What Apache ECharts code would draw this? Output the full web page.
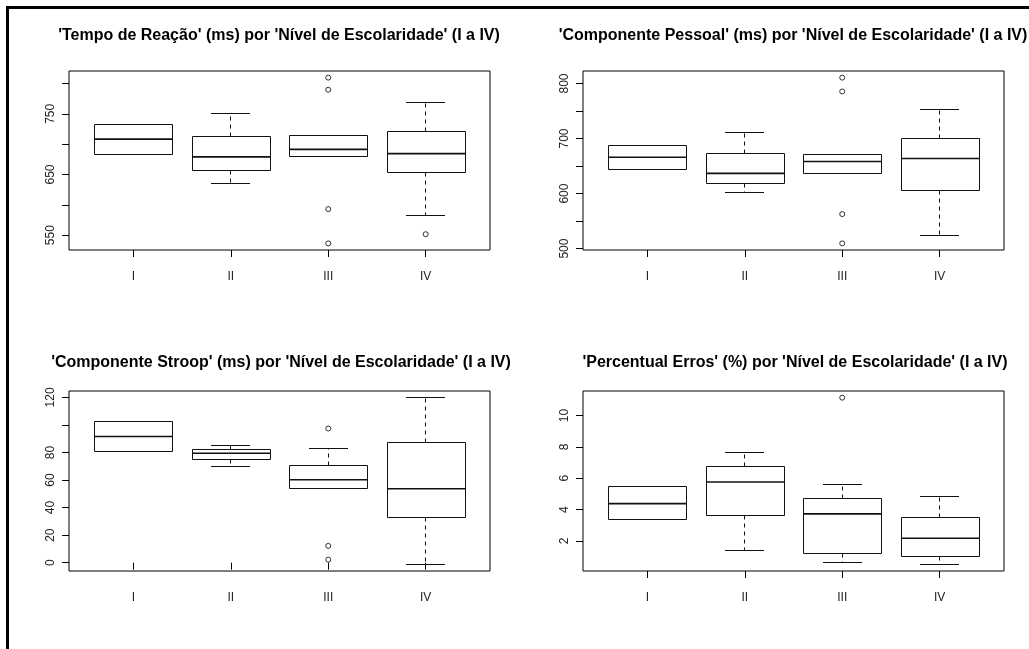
<!DOCTYPE html>
<html><head><meta charset="utf-8">
<script src="https://cdn.jsdelivr.net/npm/echarts@6/dist/echarts.min.js"></script>
<style>html,body{margin:0;padding:0;background:#fff}#c{width:1029px;height:649px}</style>
</head><body><div id="c"></div><script>
// ---- data ----
const categories = ['I', 'II', 'III', 'IV'];
const titles = [
  "'Tempo de Reação' (ms) por 'Nível de Escolaridade' (I a IV)",
  "'Componente Pessoal' (ms) por 'Nível de Escolaridade' (I a IV)",
  "'Componente Stroop' (ms) por 'Nível de Escolaridade' (I a IV)",
  "'Percentual Erros' (%) por 'Nível de Escolaridade' (I a IV)"
];
// each row: [lower whisker, Q1, median, Q3, upper whisker]
const tempoStats = [
  [682.8, 682.8, 708.4, 732.8, 732.8],
  [635.7, 656.8, 679.0, 712.6, 750.0],
  [679.0, 679.0, 691.5, 714.0, 714.0],
  [582.0, 653.0, 684.5, 720.7, 767.9]
];
const tempoOutliers = [[], [], [809.7, 789.7, 593.0, 536.5], [551.6]];
const tempoTicks = [550, 600, 650, 700, 750, 800];
const tempoLabels = [550, 650, 750];

const pessoalStats = [
  [643.4, 643.4, 666.0, 686.9, 686.9],
  [602.0, 618.8, 636.7, 672.6, 710.8],
  [636.7, 636.7, 658.2, 670.8, 670.8],
  [523.3, 605.7, 663.6, 700.7, 752.7]
];
const pessoalOutliers = [[], [], [810.6, 785.5, 562.7, 509.5], []];
const pessoalTicks = [500, 550, 600, 650, 700, 750, 800];
const pessoalLabels = [500, 600, 700, 800];

const stroopStats = [
  [80.6, 80.6, 91.6, 102.2, 102.2],
  [69.8, 75.1, 79.4, 82.3, 85.3],
  [53.7, 53.7, 60.2, 70.5, 83.0],
  [-1.2, 33.1, 53.7, 87.0, 119.8]
];
const stroopOutliers = [[], [], [97.4, 12.2, 2.2], []];
const stroopTicks = [0, 20, 40, 60, 80, 100, 120];
const stroopLabels = [0, 20, 40, 60, 80, 120];

const errosStats = [
  [3.35, 3.35, 4.38, 5.45, 5.45],
  [1.41, 3.60, 5.76, 6.75, 7.67],
  [0.64, 1.22, 3.73, 4.73, 5.57],
  [0.51, 1.04, 2.17, 3.49, 4.86]
];
const errosOutliers = [[], [], [11.14], []];
const errosTicks = [2, 4, 6, 8, 10];
const errosLabels = [2, 4, 6, 8, 10];

// ---- layout ----
const FONT = "'Liberation Sans', Arial, Helvetica, sans-serif";
const panels = [
  { stats: tempoStats, out: tempoOutliers, ticks: tempoTicks, labels: tempoLabels,
    grid: { left: 69, top: 71, width: 421, height: 179 }, title: [279, 36] },
  { stats: pessoalStats, out: pessoalOutliers, ticks: pessoalTicks, labels: pessoalLabels,
    grid: { left: 583, top: 71, width: 421, height: 179 }, title: [793, 36] },
  { stats: stroopStats, out: stroopOutliers, ticks: stroopTicks, labels: stroopLabels,
    grid: { left: 69, top: 391, width: 421, height: 180 }, title: [281, 363] },
  { stats: errosStats, out: errosOutliers, ticks: errosTicks, labels: errosLabels,
    grid: { left: 583, top: 391, width: 421, height: 180 }, title: [795, 363] }
];

function crisp(v) { return Math.round(v - 0.5) + 0.5; }

function renderBox(params, api) {
  const x = api.value(0);
  const lo = api.value(1), q1 = api.value(2), med = api.value(3), q3 = api.value(4), hi = api.value(5);
  const cx = api.coord([x, med])[0];
  const hb = api.size([0.4, 0])[0];
  const hc = api.size([0.2, 0])[0];
  const y = v => crisp(api.coord([x, v])[1]);
  const L = Math.round(cx - hb), R = Math.round(cx + hb);
  const ln = (x1, y1, x2, y2, extra) => ({
    type: 'line', shape: { x1, y1, x2, y2 },
    style: Object.assign({ stroke: '#111', lineWidth: 1 }, extra || {})
  });
  const xc = crisp(cx);
  const ym = api.coord([x, med])[1];
  return {
    type: 'group',
    children: [
      ln(xc, y(q3), xc, y(hi), { lineDash: [4, 4] }),
      ln(xc, y(q1), xc, y(lo), { lineDash: [4, 4] }),
      ln(Math.round(cx - hc), y(hi), Math.round(cx + hc), y(hi)),
      ln(Math.round(cx - hc), y(lo), Math.round(cx + hc), y(lo)),
      { type: 'rect', shape: { x: crisp(L), y: y(q3), width: R - L, height: y(q1) - y(q3) },
        style: { fill: 'none', stroke: '#111', lineWidth: 1 } },
      ln(L, ym, R, ym, { lineWidth: 1.6 })
    ]
  };
}

const grid = [], xAxis = [], yAxis = [], series = [], graphic = [];
panels.forEach((p, k) => {
  const all = p.stats.flat().concat(p.out.flat());
  const dmin = Math.min(...all), dmax = Math.max(...all);
  const pad = (dmax - dmin) * 0.04;
  grid.push(Object.assign({ show: true, borderColor: '#000', borderWidth: 1, backgroundColor: 'transparent' }, p.grid));
  xAxis.push({
    gridIndex: k, type: 'value', min: 0.34, max: 4.66,
    axisLine: { show: false }, splitLine: { show: false },
    axisTick: { show: true, customValues: [1, 2, 3, 4], length: 7, lineStyle: { color: '#000' } },
    axisLabel: { customValues: [1, 2, 3, 4], formatter: v => categories[Math.round(v) - 1],
      margin: 21, color: '#222', fontSize: 12, fontFamily: FONT }
  });
  yAxis.push({
    gridIndex: k, type: 'value', min: dmin - pad, max: dmax + pad,
    axisLine: { show: false }, splitLine: { show: false },
    axisTick: { show: true, customValues: p.ticks, length: 7, lineStyle: { color: '#000' } },
    axisLabel: { customValues: p.labels, rotate: 90, margin: 12, color: '#222', fontSize: 12, fontFamily: FONT }
  });
  series.push({
    type: 'custom', xAxisIndex: k, yAxisIndex: k, renderItem: renderBox,
    encode: { x: 0, y: [1, 2, 3, 4, 5] }, silent: true,
    data: p.stats.map((s, i) => [i + 1].concat(s))
  });
  series.push({
    type: 'scatter', xAxisIndex: k, yAxisIndex: k, symbol: 'circle', symbolSize: 5, silent: true,
    itemStyle: { color: 'rgba(0,0,0,0)', borderColor: '#000', borderWidth: 1 },
    data: p.out.flatMap((arr, i) => arr.map(v => [i + 1, v]))
  });
  graphic.push({
    type: 'text', x: p.title[0], y: p.title[1],
    style: { text: titles[k], textAlign: 'center', textVerticalAlign: 'middle',
      font: 'bold 16px ' + FONT, fill: '#000' }
  });
});
graphic.push({ type: 'line', shape: { x1: 6, y1: 7.5, x2: 1029, y2: 7.5 }, style: { stroke: '#000', lineWidth: 3 } });
graphic.push({ type: 'line', shape: { x1: 7.5, y1: 6, x2: 7.5, y2: 649 }, style: { stroke: '#000', lineWidth: 3 } });

const chart = echarts.init(document.getElementById('c'), null, { renderer: 'canvas' });
chart.setOption({ animation: false, backgroundColor: '#fff', grid, xAxis, yAxis, series, graphic });
</script></body></html>
